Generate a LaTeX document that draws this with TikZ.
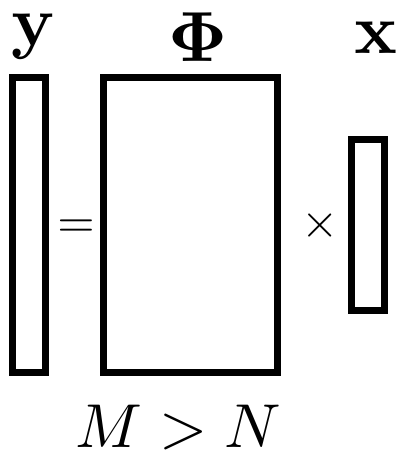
\documentclass[tikz,border=0pt]{standalone}
\newcommand{\bigtxt}[2]{\scalebox{#1}{#2}}
\begin{document}
\begin{tikzpicture}[x=1pt,y=-1pt,
  box/.style={draw=black,line width=7pt,inner sep=0pt,fill=none},
  txt/.style={inner sep=0pt,anchor=base}]
\useasboundingbox[fill=white] (0,0) rectangle (404,451);
\node[box,minimum width=33pt,minimum height=295pt] (yv) at (29,225) {};
\node[box,minimum width=174pt,minimum height=295pt] (Phi) at (190.5,225) {};
\node[box,minimum width=33pt,minimum height=171pt] (xv) at (368,225) {};
\node[txt] (ylab) at (33.5,45) {\bigtxt{7.1}{$\mathbf{y}$}};
\node[txt] (philab) at (198,61) {\bigtxt{7.1}{$\mathbf{\Phi}$}};
\node[txt] (xlab) at (376,53) {\bigtxt{7.1}{$\mathbf{x}$}};
\node[txt] (eq) at (76,237) {\bigtxt{4.8}{$=$}};
\node[txt] (times) at (320,237.5) {\bigtxt{4.8}{$\times$}};
\node[txt] (mn) at (178.5,447) {\bigtxt{6.2}{$M>N$}};
\end{tikzpicture}
\end{document}
